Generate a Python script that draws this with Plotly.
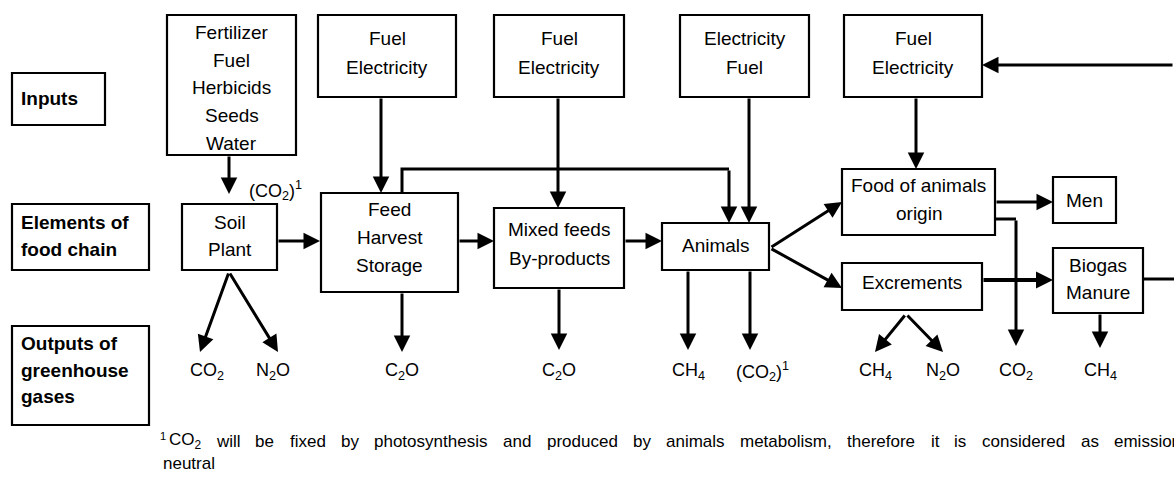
import plotly.graph_objects as go

# ---------------- content ----------------
row_labels = [["Inputs"], ["Elements of", "food chain"], ["Outputs of", "greenhouse", "gases"]]
row_boxes = [(12, 73, 105, 125), (12, 204, 149, 270), (12, 326, 149, 425)]
row_text_y = [[98], [222, 249], [343, 370, 396]]

box_labels = [
    ["Fertilizer", "Fuel", "Herbicids", "Seeds", "Water"],
    ["Fuel", "Electricity"],
    ["Fuel", "Electricity"],
    ["Electricity", "Fuel"],
    ["Fuel", "Electricity"],
    ["Soil", "Plant"],
    ["Feed", "Harvest", "Storage"],
    ["Mixed feeds", "By-products"],
    ["Animals"],
    ["Food of animals", "origin"],
    ["Men"],
    ["Excrements"],
    ["Biogas", "Manure"],
]
box_rects = [
    (167, 15, 296, 155), (318, 15, 456, 97), (494, 15, 624, 97), (680, 15, 809, 97),
    (844, 15, 982, 97), (182, 204, 277, 270), (321, 193, 458, 292), (494, 208, 624, 288),
    (662, 223, 769, 270), (842, 169, 995, 235), (1053, 177, 1116, 223), (842, 263, 982, 310),
    (1053, 248, 1143, 313),
]
box_text_y = [
    [32, 60, 87, 115, 143], [38, 67], [38, 67], [38, 67], [38, 67], [222, 249],
    [209, 237, 265], [229, 258], [245], [185, 213], [200], [282], [265, 292],
]

gas_labels = ["CO<sub>2</sub>", "N<sub>2</sub>O", "C<sub>2</sub>O", "C<sub>2</sub>O", "CH<sub>4</sub>",
              "(CO<sub>2</sub>)<sup>1</sup>", "CH<sub>4</sub>", "N<sub>2</sub>O", "CO<sub>2</sub>", "CH<sub>4</sub>"]
gas_x = [207, 273, 402, 559, 688, 762, 875, 943, 1016, 1100]
gas_y = 371

# arrows: (tail_x, tail_y, tip_x, tip_y, width, head_scale)
arrows = [
    (229, 155, 229, 194, 3, 1.1), (381, 97, 381, 193, 3, 1.1), (558, 97, 558, 208, 3, 1.1),
    (749, 97, 749, 223, 3, 1.1), (916, 97, 916, 169, 3, 1.1), (1174, 65, 982, 65, 3, 1.1),
    (277, 241, 320, 241, 3, 1.1), (458, 241, 494, 241, 3, 1.1), (624, 241, 662, 241, 3, 1.1),
    (729, 169, 729, 223, 3, 1.1), (770, 248, 842, 202, 3, 1.1), (770, 248, 842, 288, 3, 1.1),
    (995, 202, 1053, 202, 3, 1.1), (1016, 219, 1016, 346, 3, 1.1), (982, 280, 1053, 280, 4, 0.85),
    (229, 272, 200, 352, 3, 1.1), (229, 272, 278, 352, 3, 1.1), (402, 292, 402, 352, 3, 1.1),
    (559, 288, 559, 350, 3, 1.1), (688, 270, 688, 350, 3, 1.1), (750, 270, 750, 350, 3, 1.1),
    (906, 314, 875, 352, 3, 1.1), (906, 314, 943, 352, 3, 1.1), (1100, 313, 1100, 348, 3, 1.1),
]
# plain connector polylines
polylines = [
    [(402, 193), (402, 169), (729, 169)],
    [(995, 219), (1016, 219)],
    [(1143, 279), (1174, 279)],
]

footnote_words = ["CO₂", "will", "be", "fixed", "by", "photosynthesis", "and",
                  "produced", "by", "animals", "metabolism,", "therefore", "it", "is", "considered",
                  "as", "emission"]
footnote_line2 = "neutral"

FONT = "Liberation Sans, Arial, sans-serif"

# approximate Arial advance widths (1/1000 em) for justified footnote layout
AW = {c: 556 for c in "abdeghnopqu"}
AW.update({"c": 500, "f": 278, "i": 222, "j": 222, "k": 500, "l": 222, "m": 833, "r": 333,
           "s": 500, "t": 278, "v": 500, "w": 722, "x": 500, "y": 500, "z": 500, ",": 278,
           "C": 722, "O": 778, "₂": 390})


def word_w(w, size):
    return sum(AW.get(ch, 556) for ch in w) * size / 1000.0


fig = go.Figure()
shapes = []
annotations = []

for (x0, y0, x1, y1), lines, ys in zip(row_boxes, row_labels, row_text_y):
    shapes.append(dict(type="rect", xref="x", yref="y", x0=x0, y0=y0, x1=x1, y1=y1,
                       line=dict(color="black", width=2.2)))
    for t, y in zip(lines, ys):
        annotations.append(dict(x=19, y=y, xref="x", yref="y", text="<b>%s</b>" % t, showarrow=False,
                                xanchor="left", yanchor="middle", font=dict(family=FONT, size=19, color="black")))

for (x0, y0, x1, y1), lines, ys in zip(box_rects, box_labels, box_text_y):
    shapes.append(dict(type="rect", xref="x", yref="y", x0=x0, y0=y0, x1=x1, y1=y1,
                       line=dict(color="black", width=2.2)))
    for t, y in zip(lines, ys):
        annotations.append(dict(x=(x0 + x1) / 2, y=y, xref="x", yref="y", text=t, showarrow=False,
                                xanchor="center", yanchor="middle", font=dict(family=FONT, size=19, color="black")))

for t, x in zip(gas_labels, gas_x):
    annotations.append(dict(x=x, y=gas_y, xref="x", yref="y", text=t, showarrow=False,
                            xanchor="center", yanchor="middle", font=dict(family=FONT, size=18, color="black")))

annotations.append(dict(x=247, y=190, xref="x", yref="y", text="(CO<sub>2</sub>)<sup>1</sup>", showarrow=False,
                        xanchor="left", yanchor="middle", font=dict(family=FONT, size=18, color="black")))

for (tx, ty, hx, hy, w, hs) in arrows:
    annotations.append(dict(x=hx, y=hy, ax=tx, ay=ty, xref="x", yref="y", axref="x", ayref="y",
                            text="", showarrow=True, arrowhead=2, arrowsize=hs, arrowwidth=w,
                            arrowcolor="black", standoff=0, startstandoff=0))

for pl in polylines:
    path = "M %s,%s " % pl[0] + " ".join("L %s,%s" % p for p in pl[1:])
    shapes.append(dict(type="path", xref="x", yref="y", path=path, line=dict(color="black", width=3)))

# footnote: superscript marker + justified first line
FN = 17
annotations.append(dict(x=158, y=436, xref="x", yref="y", text="1", showarrow=False,
                        xanchor="left", yanchor="middle", font=dict(family=FONT, size=11, color="black")))
start, end = 168, 1180
total = sum(word_w(w, FN) for w in footnote_words)
gap = (end - start - total) / (len(footnote_words) - 1)
x = start
for w in footnote_words:
    txt = "CO<sub>2</sub>" if w == "CO₂" else w
    annotations.append(dict(x=x, y=441, xref="x", yref="y", text=txt, showarrow=False,
                            xanchor="left", yanchor="middle", borderpad=0,
                            font=dict(family=FONT, size=FN, color="black")))
    x += word_w(w, FN) + gap
annotations.append(dict(x=162, y=463, xref="x", yref="y", text=footnote_line2, showarrow=False,
                        xanchor="left", yanchor="middle", borderpad=0,
                        font=dict(family=FONT, size=FN, color="black")))

fig.update_layout(
    width=1174, height=477, margin=dict(l=0, r=0, t=0, b=0, autoexpand=False),
    paper_bgcolor="white", plot_bgcolor="white", showlegend=False,
    xaxis=dict(range=[0, 1174], visible=False, fixedrange=True),
    yaxis=dict(range=[477, 0], visible=False, fixedrange=True),
    shapes=shapes, annotations=annotations,
)
fig.write_html("out.html", post_script="document.body.style.margin='0px';",
               config={"displayModeBar": False})
